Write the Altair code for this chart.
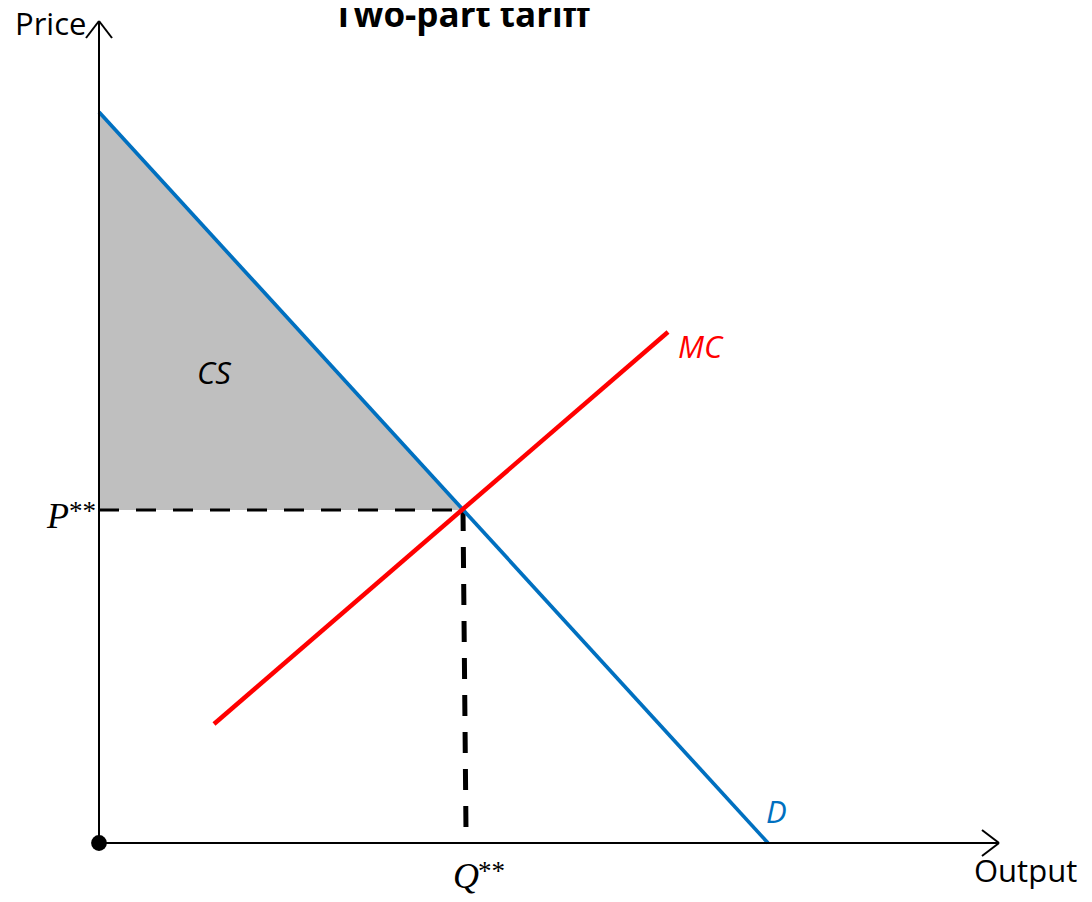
import altair as alt
import pandas as pd

# ---- plot geometry (data units: 1 unit of quantity / price) ----
W, H = 1076, 886
X_DOM = [-0.91, 9.85]
Y_DOM = [-0.51, 8.35]

# ---- curves ----
demand_q = [0.0, 6.69]
demand_p = [7.31, 0.0]
mc_q = [1.15, 5.69]
mc_p = [1.19, 5.11]
eq_q = 3.64
eq_p = 3.33
q_drop_bottom_q = 3.67
q_drop_bottom_p = 0.12

# ---- axes ----
x_axis_end = 9.0
y_axis_end = 8.22
arrow_back = 0.17
arrow_half = 0.13

# ---- label texts and anchors ----
title_text = "Two-part tariff"
title_pos = (3.625, 8.16)
price_pos = (-0.84, 8.08)
output_pos = (8.75, -0.39)
mc_label_pos = (5.79, 4.85)
cs_label_pos = (0.98, 4.59)
d_label_pos = (6.67, 0.20)
p_label_pos = (-0.52, 3.15)
p_star_pos = (-0.30, 3.23)
q_label_pos = (3.54, -0.45)
q_star_pos = (3.79, -0.37)

xs = alt.Scale(domain=X_DOM, nice=False, zero=False)
ys = alt.Scale(domain=Y_DOM, nice=False, zero=False)


def xq(field):
    return alt.X(field, type="quantitative", scale=xs, axis=None)


def yq(field):
    return alt.Y(field, type="quantitative", scale=ys, axis=None)


# consumer surplus triangle
cs_df = pd.DataFrame({"q": [0.0, eq_q], "lo": [eq_p, eq_p], "hi": [demand_p[0], eq_p]})
cs = alt.Chart(cs_df).mark_area(color="#bfbfbf").encode(x=xq("q"), y=yq("lo"), y2="hi:Q")

demand = alt.Chart(pd.DataFrame({"q": demand_q, "p": demand_p})).mark_line(
    color="#0070c0", strokeWidth=3.7
).encode(x=xq("q"), y=yq("p"))

mc = alt.Chart(pd.DataFrame({"q": mc_q, "p": mc_p})).mark_line(
    color="#ff0000", strokeWidth=4.5
).encode(x=xq("q"), y=yq("p"))

# axes with arrowheads
axis_df = pd.DataFrame({
    "x1": [0.0, 0.0, x_axis_end, x_axis_end, 0.0, 0.0],
    "y1": [0.0, 0.0, 0.0, 0.0, y_axis_end, y_axis_end],
    "x2": [x_axis_end, 0.0, x_axis_end - arrow_back, x_axis_end - arrow_back, -arrow_half, arrow_half],
    "y2": [0.0, y_axis_end, arrow_half, -arrow_half, y_axis_end - arrow_back, y_axis_end - arrow_back],
})
axes = alt.Chart(axis_df).mark_rule(color="black", strokeWidth=2).encode(
    x=xq("x1"), y=yq("y1"), x2="x2:Q", y2="y2:Q"
)

p_dash = alt.Chart(pd.DataFrame({"x1": [0.0], "y1": [eq_p], "x2": [eq_q], "y2": [eq_p]})).mark_rule(
    color="black", strokeWidth=3, strokeDash=[20, 17], strokeCap="butt"
).encode(x=xq("x1"), y=yq("y1"), x2="x2:Q", y2="y2:Q")

q_dash = alt.Chart(pd.DataFrame({"x1": [eq_q], "y1": [eq_p], "x2": [q_drop_bottom_q], "y2": [q_drop_bottom_p]})).mark_rule(
    color="black", strokeWidth=5, strokeDash=[21, 16], strokeCap="butt"
).encode(x=xq("x1"), y=yq("y1"), x2="x2:Q", y2="y2:Q")

origin = alt.Chart(pd.DataFrame({"q": [0.0], "p": [0.0]})).mark_point(
    filled=True, color="black", size=250, opacity=1
).encode(x=xq("q"), y=yq("p"))


def label(text, pos, **kw):
    return alt.Chart(pd.DataFrame({"t": [text], "q": [pos[0]], "p": [pos[1]]})).mark_text(
        align="left", baseline="alphabetic", **kw
    ).encode(x=xq("q"), y=yq("p"), text="t:N")


title = alt.Chart(pd.DataFrame({"t": [title_text], "q": [title_pos[0]], "p": [title_pos[1]]})).mark_text(
    align="center", baseline="alphabetic", font="Open Sans", fontSize=35, fontWeight="bold", color="black"
).encode(x=xq("q"), y=yq("p"), text="t:N")

price_lbl = label("Price", price_pos, font="Open Sans", fontSize=31, color="black")
output_lbl = label("Output", output_pos, font="Open Sans", fontSize=31, color="black")
mc_lbl = label("MC", mc_label_pos, font="Open Sans", fontSize=31, fontStyle="italic", color="#ff0000")
cs_lbl = label("CS", cs_label_pos, font="Open Sans", fontSize=31, fontStyle="italic", color="black")
d_lbl = label("D", d_label_pos, font="Open Sans", fontSize=31, fontStyle="italic", color="#0070c0")
p_lbl = label("P", p_label_pos, font="Liberation Serif", fontSize=36, fontStyle="italic", color="black")
p_star = label("**", p_star_pos, font="Liberation Serif", fontSize=27, color="black")
q_lbl = label("Q", q_label_pos, font="Liberation Serif", fontSize=36, fontStyle="italic", color="black")
q_star = label("**", q_star_pos, font="Liberation Serif", fontSize=27, color="black")

chart = alt.layer(
    cs, p_dash, q_dash, demand, mc, axes, origin,
    title, price_lbl, output_lbl, mc_lbl, cs_lbl, d_lbl, p_lbl, p_star, q_lbl, q_star,
).properties(
    width=W, height=H, autosize=alt.AutoSizeParams(type="none"), padding=0
).configure_view(stroke=None)

chart.save("out.html", embed_options={"renderer": "svg", "actions": False})
